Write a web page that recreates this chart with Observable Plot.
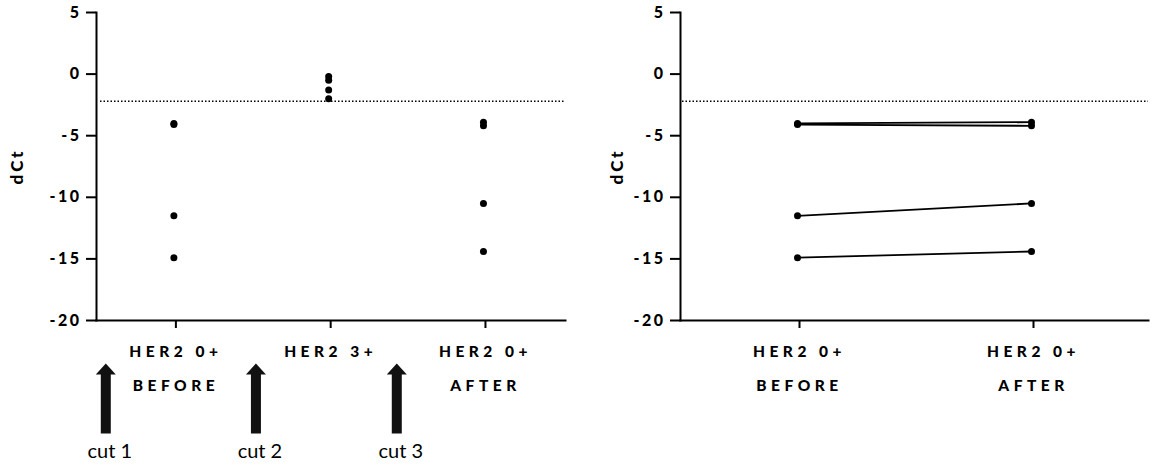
<!DOCTYPE html>
<html>
<head>
<meta charset="utf-8">
<script src="https://cdn.jsdelivr.net/npm/d3@7"></script>
<script src="https://cdn.jsdelivr.net/npm/@observablehq/plot@0.6"></script>
<style>
  html, body { margin: 0; padding: 0; background: #fff; }
  #wrap { position: relative; width: 1152px; height: 472px; overflow: hidden; }
  #left, #right { position: absolute; top: 0; }
  #left { left: 0; }
  #right { left: 584px; }
  svg g[aria-label="x-axis tick label"] { letter-spacing: 4.5px; font-size: 15.5px; font-weight: 900; }
  svg g[aria-label="y-axis tick label"] { letter-spacing: 2.5px; font-size: 16px; font-weight: 900; }
  svg g[aria-label="y-axis label"] { letter-spacing: 3px; font-size: 17px; font-weight: 900; }
</style>
</head>
<body>
<div id="wrap"><div id="left"></div><div id="right"></div></div>
<script>
// ---- data ----
const leftCategories = ["HER2 0+\nBEFORE", "HER2 3+", "HER2 0+\nAFTER"];
const rightCategories = ["HER2 0+\nBEFORE", "HER2 0+\nAFTER"];
const beforeValues = [-4.0, -4.1, -11.5, -14.9];
const her2pos3Values = [-0.2, -0.5, -1.3, -2.0];
const afterValues = [-3.9, -4.2, -10.5, -14.4];
const cutoff = -2.2;
const yTicks = [-20, -15, -10, -5, 0, 5];
const cutLabels = ["cut 1", "cut 2", "cut 3"];
const cutPositions = [-0.44, 0.53, 1.44]; // in category-index units
const yLabel = "dCt";

// ---- derived tables ----
const leftDots = [
  ...beforeValues.map(v => ({c: 0, v})),
  ...her2pos3Values.map(v => ({c: 1, v})),
  ...afterValues.map(v => ({c: 2, v}))
];
const pairs = beforeValues.map((b, i) => ({before: b, after: afterValues[i]}));
const cuts = cutLabels.map((label, i) => ({label, x: cutPositions[i]}));

const font = "Lato, 'Open Sans', sans-serif";
const commonStyle = {fontFamily: font, fontSize: "15px", fontWeight: "bold", color: "#000", background: "#fff", overflow: "visible"};

const arrowShape = {
  draw(ctx, l) {
    const sw = 5, hw = 10, hh = 11;
    ctx.moveTo(-sw, 0);
    ctx.lineTo(-sw, -l + hh);
    ctx.lineTo(-hw, -l + hh);
    ctx.lineTo(0, -l);
    ctx.lineTo(hw, -l + hh);
    ctx.lineTo(sw, -l + hh);
    ctx.lineTo(sw, 0);
    ctx.closePath();
  }
};

function yAxis(offset) {
  return Plot.axisY({
    ticks: yTicks, tickFormat: d => String(d), tickSize: 10, tickPadding: 5, strokeWidth: 2,
    label: yLabel, labelAnchor: "center", labelArrow: "none", labelOffset: offset
  });
}

const left = Plot.plot({
  width: 585, height: 472,
  marginLeft: 96, marginRight: 20, marginTop: 12, marginBottom: 152,
  style: commonStyle,
  x: {type: "linear", domain: [-0.5, 2.53]},
  y: {domain: [-20, 5]},
  marks: [
    Plot.ruleY([cutoff], {strokeDasharray: "1.5,2", strokeWidth: 1.5, stroke: "#000", insetLeft: 4}),
    Plot.frame({anchor: "left", strokeWidth: 2}),
    Plot.frame({anchor: "bottom", strokeWidth: 2}),
    yAxis(86),
    Plot.axisX({
      ticks: [0, 1, 2], tickFormat: i => leftCategories[i],
      tickSize: 8, tickPadding: 4, strokeWidth: 2, lineHeight: 2.2, label: null, dx: 2
    }),
    Plot.dot(leftDots, {x: "c", y: "v", r: 3.5, fill: "#000"}),
    Plot.vector(cuts, {x: "x", frameAnchor: "bottom", dy: 113, length: 70, anchor: "start", shape: arrowShape, fill: "#111", stroke: "none"}),
    Plot.text(cuts, {x: "x", text: "label", frameAnchor: "bottom", dy: 137, dx: 4, fontSize: 20, fontWeight: "normal", fill: "#000"})
  ]
});
document.getElementById("left").appendChild(left);

const right = Plot.plot({
  width: 568, height: 472,
  marginLeft: 96, marginRight: 4, marginTop: 12, marginBottom: 152,
  style: commonStyle,
  x: {type: "point", domain: rightCategories, padding: 0.5},
  y: {domain: [-20, 5]},
  marks: [
    Plot.ruleY([cutoff], {strokeDasharray: "1.5,2", strokeWidth: 1.5, stroke: "#000", insetLeft: 2}),
    Plot.frame({anchor: "left", strokeWidth: 2}),
    Plot.frame({anchor: "bottom", strokeWidth: 2}),
    yAxis(70),
    Plot.axisX({tickSize: 8, tickPadding: 4, strokeWidth: 2, lineHeight: 2.2, label: null, dx: 2}),
    Plot.link(pairs, {x1: () => rightCategories[0], y1: "before", x2: () => rightCategories[1], y2: "after", strokeWidth: 1.8, stroke: "#000"}),
    Plot.dot(pairs, {x: () => rightCategories[0], y: "before", r: 3.5, fill: "#000"}),
    Plot.dot(pairs, {x: () => rightCategories[1], y: "after", r: 3.5, fill: "#000"})
  ]
});
document.getElementById("right").appendChild(right);
</script>
</body>
</html>
